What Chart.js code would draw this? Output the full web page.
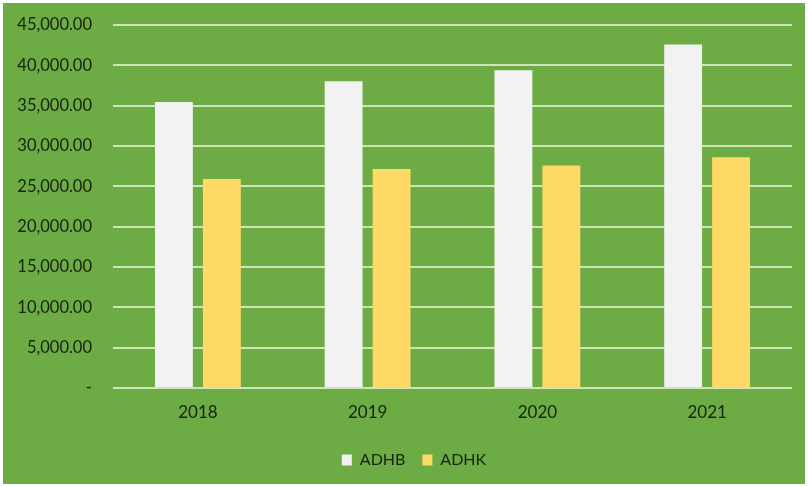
<!DOCTYPE html>
<html>
<head>
<meta charset="utf-8">
<script src="https://cdn.jsdelivr.net/npm/chart.js@4.4.1/dist/chart.umd.min.js"></script>
<style>
html,body{margin:0;padding:0;background:#ffffff;}
#wrap{width:808px;height:487px;position:relative;}
</style>
</head>
<body>
<div id="wrap"><canvas id="c" width="808" height="487"></canvas></div>
<script>
const categories = ['2018', '2019', '2020', '2021'];
const seriesNames = ['ADHB', 'ADHK'];
const adhb = [35450, 38020, 39390, 42590];
const adhk = [25920, 27160, 27570, 28600];
const yTicks = [0, 5000, 10000, 15000, 20000, 25000, 30000, 35000, 40000, 45000];

const bgPlugin = {
  id: 'bg',
  beforeDraw(chart) {
    const ctx = chart.ctx;
    ctx.save();
    ctx.fillStyle = '#ffffff';
    ctx.fillRect(0, 0, chart.width, chart.height);
    ctx.fillStyle = '#6dab45';
    ctx.fillRect(3, 3, chart.width - 6, chart.height - 6);
    ctx.restore();
  }
};

// shift the legend to the right so it is centred like the reference
const legendShift = {
  id: 'legendShift',
  afterLayout(chart) {
    const lg = chart.legend;
    if (lg) { lg.left += 18; lg.right += 18; }
  }
};

const fmt = v => v === 0 ? '-' : v.toLocaleString('en-US', {minimumFractionDigits: 2, maximumFractionDigits: 2});
const textColor = '#172310';

new Chart(document.getElementById('c'), {
  type: 'bar',
  data: {
    labels: categories,
    datasets: [
      {label: seriesNames[0], data: adhb, backgroundColor: '#f2f2f2', categoryPercentage: 0.565, barPercentage: 0.79},
      {label: seriesNames[1], data: adhk, backgroundColor: '#ffd966', categoryPercentage: 0.565, barPercentage: 0.79}
    ]
  },
  options: {
    responsive: false,
    animation: false,
    layout: {padding: {left: 0, right: 16, top: 25, bottom: 9}},
    plugins: {
      tooltip: {enabled: false},
      legend: {
        position: 'bottom',
        labels: {
          boxWidth: 10, boxHeight: 11, padding: 17,
          color: textColor,
          font: {family: 'Lato', size: 16}
        }
      }
    },
    scales: {
      x: {
        grid: {display: false, drawTicks: false},
        border: {display: false},
        afterFit(scale) { scale.height = 47; },
        ticks: {padding: 14, color: textColor, font: {family: 'Lato', size: 17}}
      },
      y: {
        min: 0, max: 45000,
        afterBuildTicks(scale) { scale.ticks = yTicks.map(v => ({value: v})); },
        afterFit(scale) { scale.width = 113; scale.paddingTop = 0; scale.paddingBottom = 0; },
        grid: {color: '#cde5b9', lineWidth: 2, drawTicks: false},
        border: {display: false},
        ticks: {padding: 21, color: textColor, font: {family: 'Lato', size: 16.5}, callback: v => fmt(v)}
      }
    }
  },
  plugins: [bgPlugin, legendShift]
});
</script>
</body>
</html>
